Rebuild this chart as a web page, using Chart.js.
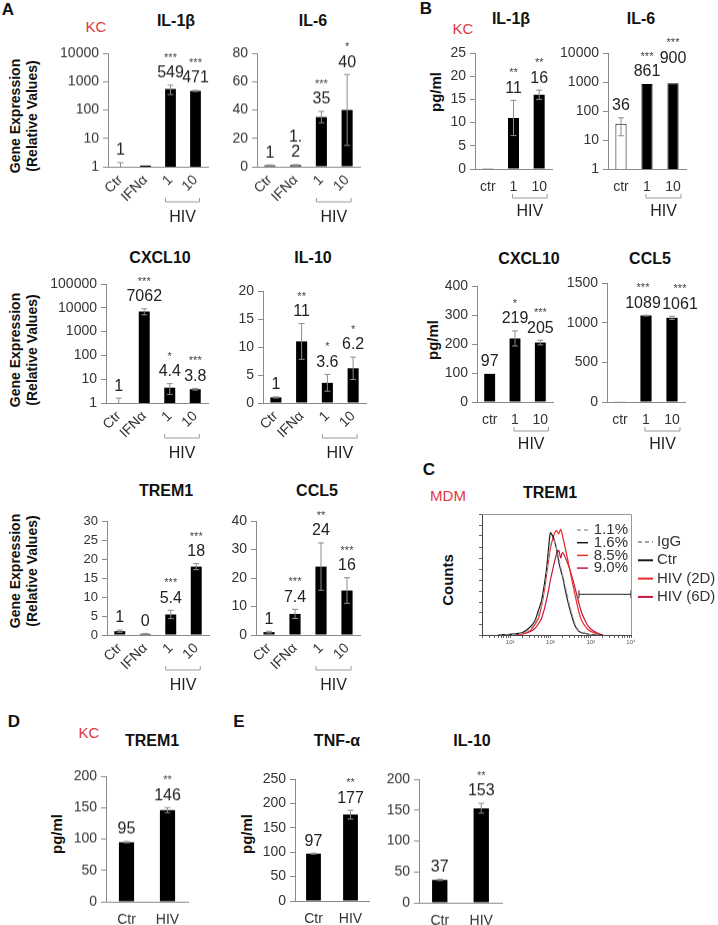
<!DOCTYPE html>
<html>
<head>
<meta charset="utf-8">
<script src="https://cdn.jsdelivr.net/npm/chart.js@4.4.0/dist/chart.umd.min.js"></script>
<style>
  body { margin: 0; width: 718px; height: 925px; position: relative; background: #fff; overflow: hidden;
         font-family: Arial, "Liberation Sans", sans-serif; color: #111; }
  canvas { position: absolute; }
  .t { position: absolute; white-space: nowrap; transform: translate(-50%, -50%); }
  .letter { font-weight: bold; font-size: 17px; }
  .title { font-weight: bold; font-size: 16px; }
  .red { color: #e03a3e; font-size: 15px; }
  .ylab { font-weight: bold; font-size: 14px; line-height: 17px; text-align: center;
          transform: translate(-50%, -50%) rotate(-90deg); }
  .ylab.pg { font-size: 15px; }
</style>
</head>
<body>
<script>
const FONT = 'Arial, "Liberation Sans", sans-serif';

// ---------- data ----------
const geneCats = ['Ctr', 'IFNα', '1', '10'];
const kcCats = ['ctr', '1', '10'];
const twoCats = ['Ctr', 'HIV'];
const hivGroup = ['1', '10'];

const logTicks4 = [1, 10, 100, 1000, 10000];
const logTicks5 = [1, 10, 100, 1000, 10000, 100000];

// A - gene expression (KC)
const il1bGene = [1, 1.1, 549, 471];
const il1bGeneErr = [0.4, 0, 200, 20];
const il1bGeneLabels = ['1', '', '549', '471'];
const il1bGeneStars = ['', '', '***', '***'];

const il6Gene = [1, 1.2, 35, 40];
const il6GeneErr = [0.3, 0.3, 4, 25];
const il6GeneLabels = ['1', '1.\n2', '35', '40'];
const il6GeneStars = ['', '', '***', '*'];

const cxcl10Gene = [1, 7062, 4.4, 3.8];
const cxcl10GeneErr = [0.6, 2000, 2.1, 0.3];
const cxcl10GeneLabels = ['1', '7062', '4.4', '3.8'];
const cxcl10GeneStars = ['', '***', '*', '***'];

const il10Gene = [1, 11, 3.6, 6.2];
const il10GeneErr = [0.1, 3.2, 1.5, 2];
const il10GeneLabels = ['1', '11', '3.6', '6.2'];
const il10GeneStars = ['', '**', '*', '*'];

const trem1Gene = [1, 0.3, 5.4, 18];
const trem1GeneErr = [0.3, 0.1, 1.1, 0.8];
const trem1GeneLabels = ['1', '0', '5.4', '18'];
const trem1GeneStars = ['', '', '***', '***'];

const ccl5Gene = [1, 7.4, 24, 15.6];
const ccl5GeneErr = [0.3, 1.6, 8.3, 4.5];
const ccl5GeneLabels = ['1', '7.4', '24', '16'];
const ccl5GeneStars = ['', '***', '**', '***'];

// B - protein (KC, pg/ml)
const il1bProt = [0.15, 11, 16];
const il1bProtErr = [0, 3.8, 1];
const il1bProtLabels = ['', '11', '16'];
const il1bProtStars = ['', '**', '**'];

const il6Prot = [36, 861, 900];
const il6ProtErr = [22, 0, 0];
const il6ProtLabels = ['36', '861', '900'];
const il6ProtStars = ['', '***', '***'];

const cxcl10Prot = [97, 219, 205];
const cxcl10ProtErr = [0, 26, 8];
const cxcl10ProtLabels = ['97', '219', '205'];
const cxcl10ProtStars = ['', '*', '***'];

const ccl5Prot = [5, 1089, 1061];
const ccl5ProtErr = [0, 5, 20];
const ccl5ProtLabels = ['', '1089', '1061'];
const ccl5ProtStars = ['', '***', '***'];

// D / E
const trem1Prot = [95, 146];
const trem1ProtErr = [1, 4];
const tnfProt = [97, 177];
const tnfProtErr = [1, 9];
const il10Prot = [37, 153];
const il10ProtErr = [1, 8];
const twoStars = ['', '**'];

// C - flow histogram (MDM)
const fluor = [5, 10, 20, 30, 40, 50, 60, 70, 80, 90, 100, 120, 140, 160, 180, 200, 250, 300, 400, 500, 600, 800, 1000, 1500, 2000];
const countsIgG = [0, 0.3, 1.5, 5, 10, 18, 27, 40, 54, 70, 82, 86, 80, 70, 62, 55, 40, 27, 11, 4.5, 2.5, 1.2, 0.4, 0, 0];
const countsCtr = [0, 0.6, 2.2, 6.6, 12, 22, 31, 45, 60, 79, 93, 88, 79, 67, 59, 53, 36, 24, 9, 3.6, 2.2, 1.1, 0.3, 0, 0];
const countsHiv2d = [0, 0, 1.1, 3.3, 8.8, 15, 26, 40, 55, 68, 79, 90, 95, 92, 96, 90, 74, 60, 38, 22, 13, 6, 3.3, 0.9, 0];
const countsHiv6d = [0, 0, 0.9, 2.8, 5.5, 10, 15, 23, 32, 41, 50, 63, 73, 77, 70, 75, 68, 60, 44, 30, 20, 10, 5.5, 1.6, 0];
const histSeries = ['IgG', 'Ctr', 'HIV (2D)', 'HIV (6D)'];
const histPercent = ['1.1%', '1.6%', '8.5%', '9.0%'];
const gateX = [510, 10000];
const gateLevel = 37;
const histTickLabels = ['10¹', '10²', '10³', '10⁴'];

// ---------- text ----------
function txt(s, x, y, cls) {
  const d = document.createElement('div');
  d.className = 't ' + cls;
  d.innerHTML = s;
  d.style.left = x + 'px';
  d.style.top = y + 'px';
  document.body.appendChild(d);
}

[['A', 8, 10], ['B', 426, 9], ['C', 429, 470], ['D', 14, 722], ['E', 239, 722]].forEach(a => txt(a[0], a[1], a[2], 'letter'));
[['KC', 96, 26], ['KC', 463, 28], ['KC', 89, 732], ['MDM', 448, 495]].forEach(a => txt(a[0], a[1], a[2], 'red'));
[['IL-1β', 176, 21], ['IL-6', 313, 21], ['CXCL10', 160, 258], ['IL-10', 313, 258], ['TREM1', 166, 491], ['CCL5', 317, 491],
 ['IL-1β', 511, 19], ['IL-6', 641, 19], ['CXCL10', 529, 259], ['CCL5', 650, 259], ['TREM1', 550, 493],
 ['TREM1', 152, 741], ['TNF-α', 337, 741], ['IL-10', 472, 741]].forEach(a => txt(a[0], a[1], a[2], 'title'));
[116, 350, 571].forEach(y => txt('Gene Expression<br>(Relative Values)', 24, y, 'ylab'));
[['pg/ml', 435, 92], ['pg/ml', 432, 340], ['pg/ml', 56, 834], ['pg/ml', 246, 834], ['Counts', 447, 580]].forEach(a => txt(a[0], a[1], a[2], 'ylab pg'));

// ---------- bar panels ----------
const annotate = {
  id: 'annotate',
  afterDatasetsDraw(chart, args, p) {
    if (!p.vals) return;
    const { ctx, chartArea } = chart;
    const ys = chart.scales.y, xs = chart.scales.x;
    const bars = chart.getDatasetMeta(0).data;
    ctx.save();
    ctx.textAlign = 'center';
    ctx.textBaseline = 'middle';
    bars.forEach((bar, i) => {
      const v = p.vals[i], e = p.errs[i];
      let top = ys.getPixelForValue(v);
      if (e > 0) {
        const hi = ys.getPixelForValue(v + e);
        const lo = ys.getPixelForValue(Math.max(v - e, ys.min));
        ctx.strokeStyle = '#8c8c8c';
        ctx.lineWidth = 1;
        ctx.beginPath();
        ctx.moveTo(bar.x, lo); ctx.lineTo(bar.x, hi);
        ctx.moveTo(bar.x - 3, hi); ctx.lineTo(bar.x + 3, hi);
        if (v - e > ys.min) { ctx.moveTo(bar.x - 3, lo); ctx.lineTo(bar.x + 3, lo); }
        ctx.stroke();
        top = Math.min(top, hi);
      }
      const lines = p.labels[i] ? p.labels[i].split('\n') : [];
      const lx = bar.x + (p.shift ? p.shift[i] : 0);
      let y = top - 12 - (p.lift ? p.lift[i] : 0);
      ctx.fillStyle = '#222';
      ctx.font = '16px ' + FONT;
      for (let k = lines.length - 1; k >= 0; k--) {
        ctx.fillText(lines[k], lx, y);
        if (k) y -= 15;
      }
      if (p.stars[i]) {
        ctx.font = '11px ' + FONT;
        ctx.fillStyle = '#444';
        ctx.fillText(p.stars[i], lx, y - (lines.length ? 15 : 0));
      }
    });
    if (p.group) {
      const labels = chart.data.labels;
      const x1 = xs.getPixelForValue(labels.indexOf(p.group[0])) + p.br[0];
      const x2 = xs.getPixelForValue(labels.indexOf(p.group[1])) + p.br[1];
      const by = chartArea.bottom + p.br[2];
      ctx.strokeStyle = '#9a9a9a';
      ctx.beginPath();
      ctx.moveTo(x1, by - 4); ctx.lineTo(x1, by); ctx.lineTo(x2, by); ctx.lineTo(x2, by - 4);
      ctx.stroke();
      ctx.fillStyle = '#222';
      ctx.font = '16px ' + FONT;
      ctx.fillText('HIV', (x1 + x2) / 2, by + p.br[3]);
    }
    ctx.restore();
  }
};

function barPanel(g, cats, vals, errs, labels, stars, opt) {
  const YW = 62, PT = 48, XH = 64, PR = 14;
  const w = YW + (g.right - g.ax) + PR, h = PT + (g.bottom - g.top) + XH;
  const cv = document.createElement('canvas');
  cv.width = w; cv.height = h;
  Object.assign(cv.style, { left: (g.ax - YW) + 'px', top: (g.top - PT) + 'px', width: w + 'px', height: h + 'px' });
  document.body.appendChild(cv);

  const tickFont = { family: FONT, size: opt.tickSize || 14 };
  let y;
  if (opt.logTicks) {
    y = { type: 'logarithmic', min: opt.logTicks[0], max: opt.logTicks[opt.logTicks.length - 1],
          afterBuildTicks: s => { s.ticks = opt.logTicks.map(v => ({ value: v })); },
          ticks: { callback: v => String(v), autoSkip: false, padding: 4, color: '#333', font: tickFont } };
  } else {
    y = { type: 'linear', min: 0, max: opt.max,
          ticks: { stepSize: opt.step, callback: v => String(v), padding: 4, color: '#333', font: tickFont } };
  }
  y.grid = { drawOnChartArea: false, tickLength: 5, color: '#8a8a8a' };
  y.border = { color: '#8a8a8a' };
  y.afterFit = s => { s.width = YW; };

  const rot = opt.rotate ? 45 : 0;
  new Chart(cv, {
    type: 'bar',
    data: {
      labels: cats,
      datasets: [{
        data: vals,
        backgroundColor: opt.fills || '#000',
        borderColor: '#000',
        borderWidth: opt.fills ? 1 : 0,
        barPercentage: opt.bar || 0.43,
        categoryPercentage: 1
      }]
    },
    options: {
      responsive: false, animation: false, devicePixelRatio: 1,
      layout: { padding: { top: PT, right: PR, left: 0, bottom: 0 } },
      plugins: {
        legend: { display: false }, tooltip: { enabled: false },
        annotate: { vals, errs, labels, stars, lift: opt.lift, shift: opt.shift, group: opt.group,
                    br: opt.rotate ? [-5, 4, 35, 16] : [-1, 8, 29, 14] }
      },
      scales: {
        x: {
          grid: { display: false, drawTicks: false },
          border: { color: '#8a8a8a' },
          ticks: { minRotation: rot, maxRotation: rot, autoSkip: false, padding: opt.rotate ? 5 : 10,
                   color: '#333', font: { family: FONT, size: 14 } },
          afterFit: s => { s.height = XH; }
        },
        y
      }
    },
    plugins: [annotate]
  });
}

// A
barPanel({ ax: 108, right: 208, top: 53.3, bottom: 166.7 }, geneCats, il1bGene, il1bGeneErr, il1bGeneLabels, il1bGeneStars,
  { logTicks: logTicks4, rotate: true, group: hivGroup });
barPanel({ ax: 257, right: 360, top: 53.3, bottom: 167 }, geneCats, il6Gene, il6GeneErr, il6GeneLabels, il6GeneStars,
  { max: 80, step: 20, rotate: true, group: hivGroup });
barPanel({ ax: 106, right: 208, top: 284.3, bottom: 403.3 }, geneCats, cxcl10Gene, cxcl10GeneErr, cxcl10GeneLabels, cxcl10GeneStars,
  { logTicks: logTicks5, rotate: true, group: hivGroup });
barPanel({ ax: 263, right: 366, top: 291, bottom: 403.3 }, geneCats, il10Gene, il10GeneErr, il10GeneLabels, il10GeneStars,
  { max: 20, step: 5, rotate: true, group: hivGroup });
barPanel({ ax: 107, right: 209, top: 521, bottom: 635 }, geneCats, trem1Gene, trem1GeneErr, trem1GeneLabels, trem1GeneStars,
  { max: 30, step: 5, rotate: true, group: hivGroup, tickSize: 13 });
barPanel({ ax: 256, right: 360, top: 521, bottom: 635 }, geneCats, ccl5Gene, ccl5GeneErr, ccl5GeneLabels, ccl5GeneStars,
  { max: 40, step: 10, rotate: true, group: hivGroup });

// B
barPanel({ ax: 475, right: 552, top: 53.3, bottom: 169.3 }, kcCats, il1bProt, il1bProtErr, il1bProtLabels, il1bProtStars,
  { max: 25, step: 5, group: hivGroup });
barPanel({ ax: 608, right: 686, top: 53.3, bottom: 169.3 }, kcCats, il6Prot, il6ProtErr, il6ProtLabels, il6ProtStars,
  { logTicks: logTicks4, group: hivGroup, fills: ['#fff', '#000', '#000'], lift: [0, 0, 13] });
barPanel({ ax: 477, right: 553, top: 285.7, bottom: 402.3 }, kcCats, cxcl10Prot, cxcl10ProtErr, cxcl10ProtLabels, cxcl10ProtStars,
  { max: 400, step: 100, group: hivGroup });
barPanel({ ax: 607, right: 685, top: 283.3, bottom: 402.3 }, kcCats, ccl5Prot, ccl5ProtErr, ccl5ProtLabels, ccl5ProtStars,
  { max: 1500, step: 500, group: hivGroup, shift: [0, -3, 8] });

// D, E
barPanel({ ax: 106, right: 188, top: 776, bottom: 901.7 }, twoCats, trem1Prot, trem1ProtErr, trem1Prot.map(String), twoStars,
  { max: 200, step: 50, bar: 0.37 });
barPanel({ ax: 295, right: 369, top: 779, bottom: 901 }, twoCats, tnfProt, tnfProtErr, tnfProt.map(String), twoStars,
  { max: 250, step: 50, bar: 0.4 });
barPanel({ ax: 419, right: 502, top: 779, bottom: 902.7 }, twoCats, il10Prot, il10ProtErr, il10Prot.map(String), twoStars,
  { max: 200, step: 50, bar: 0.37 });

// ---------- C: histogram ----------
const histLegend = {
  id: 'histLegend',
  afterDatasetsDraw(chart) {
    const { ctx, chartArea: a } = chart;
    ctx.save();
    // box top / right
    ctx.strokeStyle = '#999';
    ctx.lineWidth = 1;
    ctx.beginPath();
    ctx.moveTo(a.left, a.top + 0.5); ctx.lineTo(a.right + 0.5, a.top + 0.5); ctx.lineTo(a.right + 0.5, a.bottom);
    ctx.stroke();
    ctx.textBaseline = 'middle';
    histSeries.forEach((name, i) => {
      const ds = chart.data.datasets[i];
      // inner percentages
      let y = a.top + 16 + i * 12.7;
      ctx.strokeStyle = ds.borderColor;
      ctx.setLineDash(ds.borderDash || []);
      ctx.lineWidth = 1.5;
      ctx.beginPath(); ctx.moveTo(a.right - 54, y); ctx.lineTo(a.right - 43, y); ctx.stroke();
      ctx.setLineDash([]);
      ctx.fillStyle = '#333';
      ctx.font = '15px ' + FONT;
      ctx.textAlign = 'right';
      ctx.fillText(histPercent[i], a.right - 3, y);
      // outer legend
      y = a.top + 28 + i * 18.3;
      ctx.strokeStyle = ds.borderColor;
      ctx.setLineDash(ds.borderDash || []);
      ctx.lineWidth = 2;
      ctx.beginPath(); ctx.moveTo(a.right + 7, y); ctx.lineTo(a.right + 22, y); ctx.stroke();
      ctx.setLineDash([]);
      ctx.textAlign = 'left';
      ctx.font = '15px ' + FONT;
      ctx.fillText(name, a.right + 26, y);
    });
    ctx.restore();
  }
};

(function () {
  const cv = document.createElement('canvas');
  cv.width = 248; cv.height = 150;
  Object.assign(cv.style, { left: '470px', top: '505px', width: '248px', height: '150px' });
  document.body.appendChild(cv);
  const colors = ['#a3a3a3', '#1a1a1a', '#ee2a24', '#c4163f'];
  const counts = [countsIgG, countsCtr, countsHiv2d, countsHiv6d];
  const datasets = histSeries.map((name, i) => ({
    label: name,
    data: fluor.map((x, k) => ({ x, y: counts[i][k] })),
    borderColor: colors[i],
    borderDash: i === 0 ? [4, 3] : undefined,
    borderWidth: 1.2,
    pointRadius: 0,
    tension: 0.25
  }));
  datasets.push({
    label: 'gate',
    data: gateX.map(x => ({ x, y: gateLevel })),
    borderColor: '#222', backgroundColor: '#222', borderWidth: 1,
    pointStyle: 'line', pointRotation: 90, pointRadius: 4, pointBorderWidth: 1
  });
  new Chart(cv, {
    type: 'line',
    data: { datasets },
    options: {
      responsive: false, animation: false, devicePixelRatio: 1,
      layout: { padding: { top: 9, right: 87, left: 0, bottom: 0 } },
      plugins: { legend: { display: false }, tooltip: { enabled: false } },
      scales: {
        x: {
          type: 'logarithmic', min: 2, max: 10000,
          afterBuildTicks: s => {
            const t = [];
            for (let e = 0; e < 4; e++) for (let m = 1; m < 10; m++) { const v = m * Math.pow(10, e); if (v >= 2) t.push({ value: v }); }
            t.push({ value: 10000 });
            s.ticks = t;
          },
          ticks: {
            autoSkip: false, maxRotation: 0, padding: 1, color: '#555', font: { family: FONT, size: 6 },
            callback: v => { const e = Math.log10(v); return Math.abs(e - Math.round(e)) < 1e-9 && e >= 1 ? histTickLabels[Math.round(e) - 1] : ''; }
          },
          grid: { drawOnChartArea: false, tickLength: 3, color: '#666' },
          border: { color: '#444' },
          afterFit: s => { s.height = 20; }
        },
        y: {
          min: 0, max: 110,
          ticks: { stepSize: 10, display: false, autoSkip: false },
          grid: { drawOnChartArea: false, tickLength: 3, color: '#666' },
          border: { color: '#444' },
          afterFit: s => { s.width = 12; }
        }
      }
    },
    plugins: [histLegend]
  });
})();
</script>
</body>
</html>
